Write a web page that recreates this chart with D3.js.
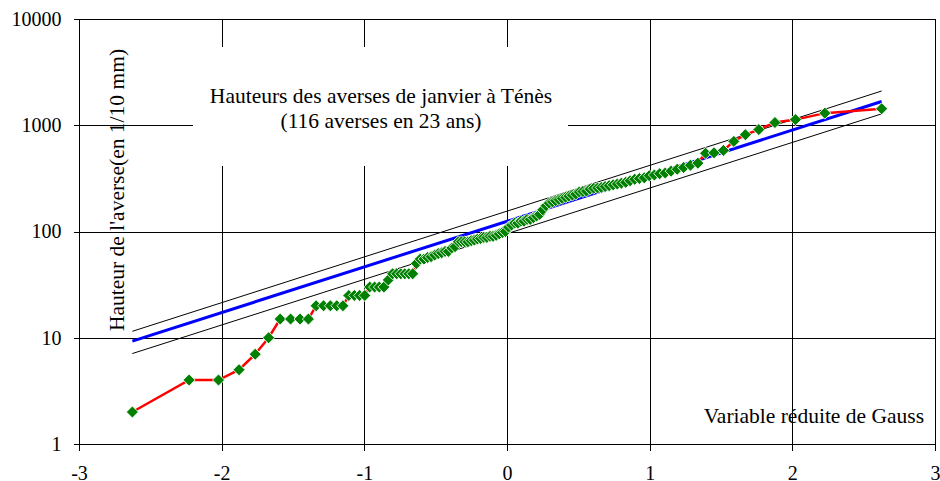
<!DOCTYPE html>
<html>
<head>
<meta charset="utf-8">
<script src="https://cdn.jsdelivr.net/npm/d3@7"></script>
<style>
  body { margin: 0; background: #fff; }
  svg { display: block; }
  text { font-family: "Liberation Serif", "Times New Roman", "DejaVu Serif", serif; }
</style>
</head>
<body>
<svg id="chart" width="940" height="481"></svg>
<script>
// Gauss reduced variable for each of the 116 ranked showers
var gauss = [
  -2.626, -2.228, -2.022, -1.878, -1.765, -1.671, -1.590, -1.517, -1.451, -1.392,
  -1.338, -1.286, -1.238, -1.193, -1.150, -1.109, -1.070, -1.033, -0.997, -0.962,
  -0.928, -0.895, -0.863, -0.832, -0.802, -0.773, -0.744, -0.716, -0.688, -0.661,
  -0.635, -0.608, -0.582, -0.557, -0.532, -0.507, -0.482, -0.458, -0.434, -0.411,
  -0.387, -0.364, -0.341, -0.319, -0.296, -0.274, -0.251, -0.229, -0.207, -0.185,
  -0.163, -0.141, -0.119, -0.098, -0.076, -0.054, -0.032, -0.011,
  0.011, 0.032, 0.054, 0.076, 0.098, 0.119, 0.141, 0.163, 0.185, 0.207,
  0.229, 0.251, 0.274, 0.296, 0.319, 0.341, 0.364, 0.387, 0.411, 0.434,
  0.458, 0.482, 0.507, 0.532, 0.557, 0.582, 0.608, 0.635, 0.661, 0.688,
  0.716, 0.744, 0.773, 0.802, 0.832, 0.863, 0.895, 0.928, 0.962, 0.997,
  1.033, 1.070, 1.109, 1.150, 1.193, 1.238, 1.286, 1.338, 1.392, 1.451,
  1.517, 1.590, 1.671, 1.765, 1.878, 2.022, 2.228, 2.626
];

// Shower heights (1/10 mm), sorted
var heights = [
  2, 4, 4, 5, 7, 10, 15, 15, 15, 15,
  20, 20, 20, 20, 20, 25, 25, 25, 25, 30,
  30, 30, 30, 35, 40, 40, 40, 40, 40, 40,
  50, 55, 55, 57, 58, 60, 62, 63, 65, 65,
  70, 72, 80, 80, 80, 80, 82, 83, 85, 86,
  88, 88, 90, 90, 92, 95, 98, 100,
  110, 115, 120, 120, 125, 125, 130, 130, 135, 140, 145,
  160, 175, 185, 190, 195, 200, 205, 210, 215, 220, 225,
  235, 238, 240, 250, 255, 257, 260, 265, 270, 275, 280, 285, 290, 300, 310, 315, 320,
  335, 340, 350, 355, 370, 385, 400, 420, 440, 545, 550, 580, 705, 815, 910, 1060, 1130, 1300, 1430
];

// fitted law and confidence bounds (end points)
var fitLine = [[-2.626, 9.3], [2.626, 1675]];
var upperLine = [[-2.626, 11.5], [2.626, 2100]];
var lowerLine = [[-2.626, 7.1], [2.626, 1280]];

var xTicks = [-3, -2, -1, 0, 1, 2, 3];
var yTicks = [1, 10, 100, 1000, 10000];

var titleLines = ["Hauteurs des averses de janvier à Ténès", "(116 averses en 23 ans)"];
var yLabel = "Hauteur de l'averse(en 1/10 mm)";
var xLabel = "Variable réduite de Gauss";

var plotLeft = 79, plotRight = 935, plotTop = 19, plotBottom = 444;
var serif = "Liberation Serif, Times New Roman, serif";
var labelSize = 21.5;

var svg = d3.select("#chart");

var x = d3.scaleLinear().domain([-3, 3]).range([plotLeft, plotRight]);
var y = d3.scaleLog().domain([1, 10000]).range([plotBottom, plotTop]);

var data = gauss.map(function(u, i) { return { u: u, h: heights[i] }; });

// grid lines
var grid = svg.append("g").attr("stroke", "#000").attr("stroke-width", 1).attr("shape-rendering", "crispEdges");
grid.selectAll(".vg")
    .data(xTicks.slice(1, -1))
    .enter().append("line")
    .attr("x1", function(d) { return Math.round(x(d)) + 0.5; })
    .attr("x2", function(d) { return Math.round(x(d)) + 0.5; })
    .attr("y1", plotTop).attr("y2", plotBottom);
grid.selectAll(".hg")
    .data(yTicks.slice(1, -1))
    .enter().append("line")
    .attr("y1", function(d) { return Math.round(y(d)) + 0.5; })
    .attr("y2", function(d) { return Math.round(y(d)) + 0.5; })
    .attr("x1", plotLeft).attr("x2", plotRight);

// frame
svg.append("rect")
    .attr("x", plotLeft + 0.5).attr("y", plotTop + 0.5)
    .attr("width", plotRight - plotLeft).attr("height", plotBottom - plotTop)
    .attr("fill", "none").attr("stroke", "#000").attr("shape-rendering", "crispEdges");

// axes
var yAxis = d3.axisLeft(y).tickValues(yTicks).tickFormat(function(d) { return String(d); })
    .tickSize(6).tickPadding(12);
var xAxis = d3.axisBottom(x).tickValues(xTicks).tickFormat(function(d) { return String(d); })
    .tickSize(6).tickPadding(15);

function styleAxis(g) {
    g.select(".domain").remove();
    g.selectAll("line").attr("stroke", "#000").attr("shape-rendering", "crispEdges");
    g.selectAll("text").attr("font-size", 20).attr("fill", "#000").attr("font-family", serif);
}

svg.append("g")
    .attr("transform", "translate(" + (plotLeft + 0.5) + ",0)")
    .call(yAxis)
    .call(styleAxis);

svg.append("g")
    .attr("transform", "translate(0," + (plotBottom + 0.5) + ")")
    .call(xAxis)
    .call(styleAxis);

// title box hides the grid behind it
svg.append("rect")
    .attr("x", 193).attr("y", 47)
    .attr("width", 375).attr("height", 119)
    .attr("fill", "#fff");

svg.append("text")
    .attr("x", 381).attr("y", 103)
    .attr("text-anchor", "middle")
    .attr("font-size", labelSize)
    .attr("font-family", serif)
    .selectAll("tspan")
    .data(titleLines)
    .enter().append("tspan")
    .attr("x", 381)
    .attr("dy", function(d, i) { return i === 0 ? 0 : 25; })
    .text(function(d) { return d; });

// axis labels
svg.append("text")
    .attr("transform", "translate(124,190) rotate(-90)")
    .attr("text-anchor", "middle")
    .attr("font-size", labelSize)
    .attr("font-family", serif)
    .text(yLabel);

svg.append("text")
    .attr("x", 924).attr("y", 423)
    .attr("text-anchor", "end")
    .attr("font-size", labelSize)
    .attr("font-family", serif)
    .text(xLabel);

// lines
var line = d3.line()
    .x(function(d) { return x(d[0]); })
    .y(function(d) { return y(d[1]); });

svg.append("path").datum(upperLine).attr("d", line)
    .attr("fill", "none").attr("stroke", "#000").attr("stroke-width", 1);
svg.append("path").datum(lowerLine).attr("d", line)
    .attr("fill", "none").attr("stroke", "#000").attr("stroke-width", 1);
svg.append("path").datum(fitLine).attr("d", line)
    .attr("fill", "none").attr("stroke", "#0000ff").attr("stroke-width", 3);

var obsLine = d3.line()
    .x(function(d) { return x(d.u); })
    .y(function(d) { return y(d.h); });

svg.append("path").datum(data).attr("d", obsLine)
    .attr("fill", "none").attr("stroke", "#ff0000").attr("stroke-width", 2.5);

// diamonds
var diamond = d3.symbol().type(d3.symbolSquare).size(72);
svg.selectAll(".pt")
    .data(data)
    .enter().append("path")
    .attr("class", "pt")
    .attr("d", diamond)
    .attr("transform", function(d) {
        return "translate(" + x(d.u) + "," + y(d.h) + ") rotate(45)";
    })
    .attr("fill", "#008000")
    .attr("stroke", "#fff")
    .attr("stroke-width", 0.8);
</script>
</body>
</html>
